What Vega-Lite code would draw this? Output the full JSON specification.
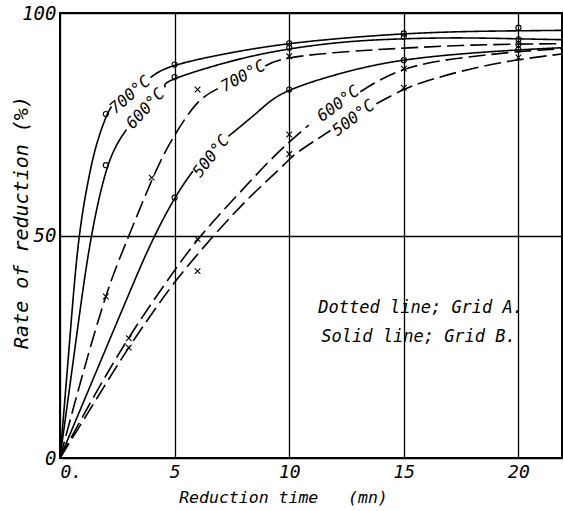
{
  "$schema": "https://vega.github.io/schema/vega-lite/v6.json",
  "width": 502,
  "height": 445,
  "autosize": {"type": "none"},
  "padding": {"left": 60, "top": 13, "right": 1, "bottom": 53},
  "background": "white",
  "config": {
    "view": {"stroke": "black", "strokeWidth": 2},
    "font": "DejaVu Sans Mono",
    "axis": {
      "grid": true, "gridColor": "black", "gridWidth": 1.3, "gridOpacity": 1,
      "ticks": false, "domain": false,
      "labelFont": "DejaVu Sans Mono", "labelFontStyle": "italic", "labelColor": "black",
      "titleFont": "DejaVu Sans Mono", "titleFontStyle": "italic", "titleFontWeight": "normal", "titleColor": "black"
    }
  },
  "datasets": {
    "curves": [
      {"g":"B","T":"700","s":1,"t":0,"r":0},{"g":"B","T":"700","s":1,"t":0.4,"r":25},{"g":"B","T":"700","s":1,"t":0.8,"r":48},{"g":"B","T":"700","s":1,"t":1.24,"r":62.5},{"g":"B","T":"700","s":1,"t":1.6,"r":70.5},{"g":"B","T":"700","s":1,"t":2,"r":76.5},{"g":"B","T":"700","s":1,"t":2.25,"r":79},
      {"g":"B","T":"700","s":2,"t":3.95,"r":85.5},{"g":"B","T":"700","s":2,"t":5,"r":88.2},{"g":"B","T":"700","s":2,"t":7.5,"r":91.1},{"g":"B","T":"700","s":2,"t":10,"r":93.1},{"g":"B","T":"700","s":2,"t":12.5,"r":94.4},{"g":"B","T":"700","s":2,"t":15,"r":95.3},{"g":"B","T":"700","s":2,"t":17.5,"r":95.8},{"g":"B","T":"700","s":2,"t":20,"r":96.0},{"g":"B","T":"700","s":2,"t":21.9,"r":96.1},
      {"g":"B","T":"600","s":1,"t":0,"r":0},{"g":"B","T":"600","s":1,"t":0.7,"r":26.5},{"g":"B","T":"600","s":1,"t":1.31,"r":48},{"g":"B","T":"600","s":1,"t":2.08,"r":65.5},{"g":"B","T":"600","s":1,"t":2.9,"r":73.8},
      {"g":"B","T":"600","s":2,"t":4.6,"r":83.3},{"g":"B","T":"600","s":2,"t":5,"r":85.2},{"g":"B","T":"600","s":2,"t":7.5,"r":89.2},{"g":"B","T":"600","s":2,"t":10,"r":91.9},{"g":"B","T":"600","s":2,"t":12.5,"r":93.5},{"g":"B","T":"600","s":2,"t":15,"r":94.2},{"g":"B","T":"600","s":2,"t":17.5,"r":94.4},{"g":"B","T":"600","s":2,"t":20,"r":94.2},{"g":"B","T":"600","s":2,"t":21.9,"r":94.0},
      {"g":"B","T":"500","s":1,"t":0,"r":0},{"g":"B","T":"500","s":1,"t":1.1,"r":13.5},{"g":"B","T":"500","s":1,"t":2.2,"r":27},{"g":"B","T":"500","s":1,"t":3.1,"r":38},{"g":"B","T":"500","s":1,"t":4,"r":48.5},{"g":"B","T":"500","s":1,"t":5,"r":58.3},{"g":"B","T":"500","s":1,"t":5.8,"r":64.5},
      {"g":"B","T":"500","s":2,"t":7.35,"r":72.3},{"g":"B","T":"500","s":2,"t":8.7,"r":78.1},{"g":"B","T":"500","s":2,"t":10,"r":82.6},{"g":"B","T":"500","s":2,"t":12.6,"r":86.9},{"g":"B","T":"500","s":2,"t":15,"r":89.4},{"g":"B","T":"500","s":2,"t":17.5,"r":90.8},{"g":"B","T":"500","s":2,"t":20,"r":91.7},{"g":"B","T":"500","s":2,"t":21.9,"r":92.2},
      {"g":"A","T":"700","s":1,"t":0,"r":0},{"g":"A","T":"700","s":1,"t":1,"r":19},{"g":"A","T":"700","s":1,"t":2,"r":36.3},{"g":"A","T":"700","s":1,"t":2.85,"r":48},{"g":"A","T":"700","s":1,"t":4.1,"r":63.5},{"g":"A","T":"700","s":1,"t":5,"r":72.5},{"g":"A","T":"700","s":1,"t":6,"r":79.8},{"g":"A","T":"700","s":1,"t":7,"r":83.3},
      {"g":"A","T":"700","s":2,"t":8.95,"r":88.1},{"g":"A","T":"700","s":2,"t":10,"r":89.9},{"g":"A","T":"700","s":2,"t":12.5,"r":91.3},{"g":"A","T":"700","s":2,"t":15,"r":92.1},{"g":"A","T":"700","s":2,"t":17.5,"r":92.7},{"g":"A","T":"700","s":2,"t":20,"r":93},{"g":"A","T":"700","s":2,"t":21.9,"r":93.1},
      {"g":"A","T":"600","s":1,"t":0,"r":0},{"g":"A","T":"600","s":1,"t":1.5,"r":14},{"g":"A","T":"600","s":1,"t":3,"r":27},{"g":"A","T":"600","s":1,"t":4.5,"r":38.5},{"g":"A","T":"600","s":1,"t":6,"r":49},{"g":"A","T":"600","s":1,"t":7.6,"r":58.3},{"g":"A","T":"600","s":1,"t":9,"r":66},{"g":"A","T":"600","s":1,"t":10,"r":71},{"g":"A","T":"600","s":1,"t":10.85,"r":74.8},
      {"g":"A","T":"600","s":2,"t":13.1,"r":82.3},{"g":"A","T":"600","s":2,"t":15,"r":87.3},{"g":"A","T":"600","s":2,"t":17.5,"r":89.9},{"g":"A","T":"600","s":2,"t":20,"r":91.3},{"g":"A","T":"600","s":2,"t":21.9,"r":92},
      {"g":"A","T":"500","s":1,"t":0,"r":0},{"g":"A","T":"500","s":1,"t":1.5,"r":12.5},{"g":"A","T":"500","s":1,"t":3,"r":24.8},{"g":"A","T":"500","s":1,"t":4.5,"r":36},{"g":"A","T":"500","s":1,"t":5.5,"r":42.7},{"g":"A","T":"500","s":1,"t":6.8,"r":50.5},{"g":"A","T":"500","s":1,"t":8.3,"r":58.7},{"g":"A","T":"500","s":1,"t":9.75,"r":65.8},{"g":"A","T":"500","s":1,"t":10.4,"r":68.8},{"g":"A","T":"500","s":1,"t":11.8,"r":73.6},
      {"g":"A","T":"500","s":2,"t":13.8,"r":79.6},{"g":"A","T":"500","s":2,"t":15,"r":82.8},{"g":"A","T":"500","s":2,"t":16,"r":84.7},{"g":"A","T":"500","s":2,"t":17.5,"r":86.9},{"g":"A","T":"500","s":2,"t":19.65,"r":89.2},{"g":"A","T":"500","s":2,"t":21.9,"r":90.8}
    ],
    "markers": [
      {"g":"B","t":2,"r":77.3},{"g":"B","t":5,"r":88.4},{"g":"B","t":10,"r":93.2},{"g":"B","t":15,"r":95.4},{"g":"B","t":20,"r":96.7},
      {"g":"B","t":2,"r":65.8},{"g":"B","t":5,"r":85.6},{"g":"B","t":10,"r":92.2},{"g":"B","t":15,"r":94.7},{"g":"B","t":20,"r":94.1},{"g":"B","t":20,"r":93.0},
      {"g":"B","t":5,"r":58.5},{"g":"B","t":10,"r":82.8},{"g":"B","t":15,"r":89.4},{"g":"B","t":20,"r":91.8},
      {"g":"A","t":2,"r":36.3},{"g":"A","t":4,"r":63},{"g":"A","t":6,"r":82.8},{"g":"A","t":10,"r":90.3},
      {"g":"A","t":3,"r":26.9},{"g":"A","t":6,"r":49.2},{"g":"A","t":10,"r":72.7},{"g":"A","t":15,"r":87.5},{"g":"A","t":20,"r":90.0},
      {"g":"A","t":3,"r":24.8},{"g":"A","t":6,"r":42},{"g":"A","t":10,"r":68.3},{"g":"A","t":15,"r":83.2}
    ],
    "labels": [
      {"id":"L1","text":"700°C","t":3.06,"r":81.6},
      {"id":"L2","text":"600°C","t":3.73,"r":78.5},
      {"id":"L3","text":"700°C","t":7.99,"r":85.8},
      {"id":"L4","text":"500°C","t":6.59,"r":67.8},
      {"id":"L5","text":"600°C","t":12.14,"r":79.6},
      {"id":"L6","text":"500°C","t":12.8,"r":76.4}
    ],
    "notes": [
      {"text":"Dotted line; Grid A.","t":11.27,"r":33.7},
      {"text":"Solid line; Grid B.","t":11.4,"r":27.2}
    ]
  },
  "layer": [
    {
      "data": {"name": "curves"},
      "mark": {"type": "line", "color": "black", "strokeWidth": 1.6, "interpolate": "natural"},
      "encoding": {
        "x": {"field": "t", "type": "quantitative", "scale": {"domain": [0, 21.9], "nice": false, "zero": false},
              "axis": {"values": [0, 5, 10, 15, 20], "labelExpr": "datum.value == 0 ? '0.' : datum.label", "labelFontSize": 18, "labelPadding": 5,
                       "title": "Reduction time\u00a0\u00a0\u00a0(mn)", "titleFontSize": 16.5, "titleX": 223, "titleY": 44, "titleAlign": "center", "titleBaseline": "alphabetic"}},
        "y": {"field": "r", "type": "quantitative", "scale": {"domain": [0, 100], "nice": false},
              "axis": {"values": [0, 50, 100], "labelFontSize": 19, "labelPadding": 4,
                       "title": "Rate of reduction (%)", "titleFontSize": 20, "titleX": -33, "titleY": 209, "titleAlign": "center", "titleBaseline": "alphabetic", "titleAngle": -90}},
        "detail": [{"field": "g"}, {"field": "T"}, {"field": "s"}],
        "strokeDash": {"field": "g", "type": "nominal", "scale": {"domain": ["A", "B"], "range": [[17, 6], [1, 0]]}, "legend": null}
      }
    },
    {
      "data": {"name": "markers"},
      "mark": {"type": "point", "filled": false, "color": "black", "strokeWidth": 1.1, "opacity": 1},
      "encoding": {
        "x": {"field": "t", "type": "quantitative"},
        "y": {"field": "r", "type": "quantitative"},
        "shape": {"field": "g", "type": "nominal", "scale": {"domain": ["A", "B"], "range": ["M-1,-1L1,1M-1,1L1,-1", "circle"]}, "legend": null},
        "size": {"field": "g", "type": "nominal", "scale": {"domain": ["A", "B"], "range": [32, 26]}, "legend": null}
      }
    },
    {"data": {"name": "labels"}, "transform": [{"filter": "datum.id == 'L1'"}],
     "mark": {"type": "text", "angle": 319, "fontSize": 16, "fontStyle": "italic", "font": "DejaVu Sans Mono", "color": "black", "align": "center", "baseline": "middle"},
     "encoding": {"x": {"field": "t", "type": "quantitative"}, "y": {"field": "r", "type": "quantitative"}, "text": {"field": "text"}}},
    {"data": {"name": "labels"}, "transform": [{"filter": "datum.id == 'L2'"}],
     "mark": {"type": "text", "angle": 313, "fontSize": 16, "fontStyle": "italic", "font": "DejaVu Sans Mono", "color": "black", "align": "center", "baseline": "middle"},
     "encoding": {"x": {"field": "t", "type": "quantitative"}, "y": {"field": "r", "type": "quantitative"}, "text": {"field": "text"}}},
    {"data": {"name": "labels"}, "transform": [{"filter": "datum.id == 'L3'"}],
     "mark": {"type": "text", "angle": 331, "fontSize": 16, "fontStyle": "italic", "font": "DejaVu Sans Mono", "color": "black", "align": "center", "baseline": "middle"},
     "encoding": {"x": {"field": "t", "type": "quantitative"}, "y": {"field": "r", "type": "quantitative"}, "text": {"field": "text"}}},
    {"data": {"name": "labels"}, "transform": [{"filter": "datum.id == 'L4'"}],
     "mark": {"type": "text", "angle": 308, "fontSize": 16, "fontStyle": "italic", "font": "DejaVu Sans Mono", "color": "black", "align": "center", "baseline": "middle"},
     "encoding": {"x": {"field": "t", "type": "quantitative"}, "y": {"field": "r", "type": "quantitative"}, "text": {"field": "text"}}},
    {"data": {"name": "labels"}, "transform": [{"filter": "datum.id == 'L5' || datum.id == 'L6'"}],
     "mark": {"type": "text", "angle": 323, "fontSize": 16, "fontStyle": "italic", "font": "DejaVu Sans Mono", "color": "black", "align": "center", "baseline": "middle"},
     "encoding": {"x": {"field": "t", "type": "quantitative"}, "y": {"field": "r", "type": "quantitative"}, "text": {"field": "text"}}},
    {"data": {"name": "notes"},
     "mark": {"type": "text", "fontSize": 17, "fontStyle": "italic", "font": "DejaVu Sans Mono", "color": "black", "align": "left", "baseline": "middle"},
     "encoding": {"x": {"field": "t", "type": "quantitative"}, "y": {"field": "r", "type": "quantitative"}, "text": {"field": "text"}}}
  ]
}
